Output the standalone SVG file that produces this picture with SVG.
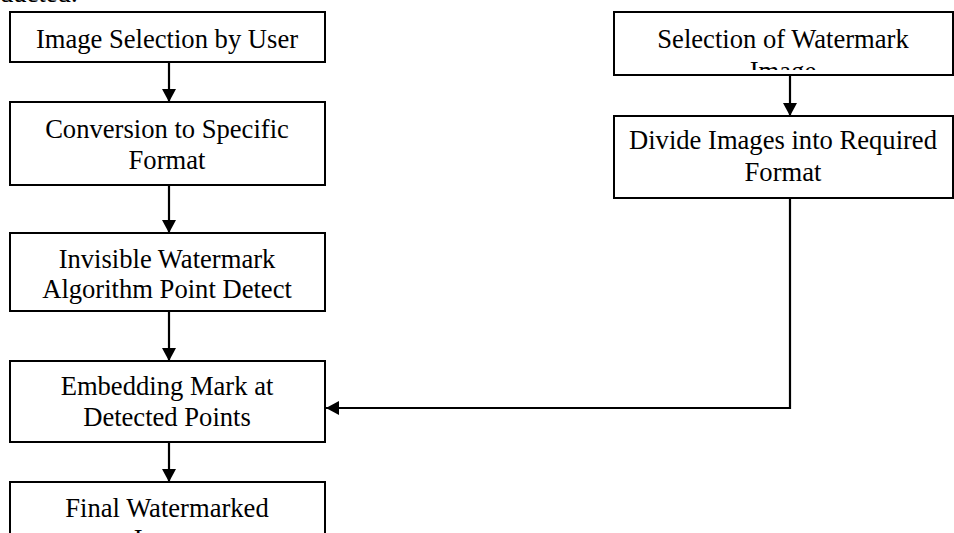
<svg xmlns="http://www.w3.org/2000/svg" width="954" height="533" viewBox="0 0 954 533">
  <defs>
    <marker id="arrow" markerWidth="14" markerHeight="14" refX="13" refY="7" orient="auto" markerUnits="userSpaceOnUse">
      <path d="M0,0 L13,7 L0,14 Z" fill="#000"/>
    </marker>
    <!-- inner text area of the watermark-selection box; the second line overflows it -->
    <clipPath id="clipA">
      <rect x="614" y="12" width="340" height="58"/>
    </clipPath>
  </defs>
  <style>
    .box { fill: #fff; stroke: #000; stroke-width: 2; }
    .lbl { font-family: "Liberation Serif", "Times New Roman", serif; font-size: 26.6px; fill: #000; text-anchor: middle; }
    .conn { fill: none; stroke: #000; stroke-width: 2.2; }
  </style>
  <rect width="954" height="533" fill="#fff"/>

  <!-- tail of the preceding paragraph line -->
  <text class="lbl" x="0" y="2" style="text-anchor:start">ducted.</text>

  <g id="connectors">
    <line class="conn" x1="169" y1="62" x2="169" y2="102" marker-end="url(#arrow)"/>
    <line class="conn" x1="169" y1="185" x2="169" y2="233" marker-end="url(#arrow)"/>
    <line class="conn" x1="169" y1="311" x2="169" y2="361" marker-end="url(#arrow)"/>
    <line class="conn" x1="169" y1="442" x2="169" y2="482" marker-end="url(#arrow)"/>
    <line class="conn" x1="790" y1="75" x2="790" y2="116" marker-end="url(#arrow)"/>
    <polyline class="conn" points="790,198 790,408 326,408" marker-end="url(#arrow)"/>
  </g>

  <g id="image-selection">
    <rect class="box" x="10" y="12" width="315" height="50"/>
    <text class="lbl" x="167" y="48">Image Selection by User</text>
  </g>

  <g id="conversion">
    <rect class="box" x="10" y="102" width="315" height="83"/>
    <text class="lbl" x="167" y="138">Conversion to Specific</text>
    <text class="lbl" x="167" y="169">Format</text>
  </g>

  <g id="point-detect">
    <rect class="box" x="10" y="233" width="315" height="78"/>
    <text class="lbl" x="167" y="268">Invisible Watermark</text>
    <text class="lbl" x="167" y="298">Algorithm Point Detect</text>
  </g>

  <g id="embedding">
    <rect class="box" x="10" y="361" width="315" height="81"/>
    <text class="lbl" x="167" y="395">Embedding Mark at</text>
    <text class="lbl" x="167" y="426">Detected Points</text>
  </g>

  <g id="final-image">
    <rect class="box" x="10" y="482" width="315" height="80"/>
    <text class="lbl" x="167" y="517">Final Watermarked</text>
    <text class="lbl" x="167" y="548">Image</text>
  </g>

  <g id="watermark-selection">
    <rect class="box" x="614" y="12" width="339" height="63"/>
    <g clip-path="url(#clipA)">
      <text class="lbl" x="783" y="48">Selection of Watermark</text>
      <text class="lbl" x="783" y="80">Image</text>
    </g>
  </g>

  <g id="divide-images">
    <rect class="box" x="614" y="116" width="339" height="82"/>
    <text class="lbl" x="783" y="149">Divide Images into Required</text>
    <text class="lbl" x="783" y="181">Format</text>
  </g>
</svg>
